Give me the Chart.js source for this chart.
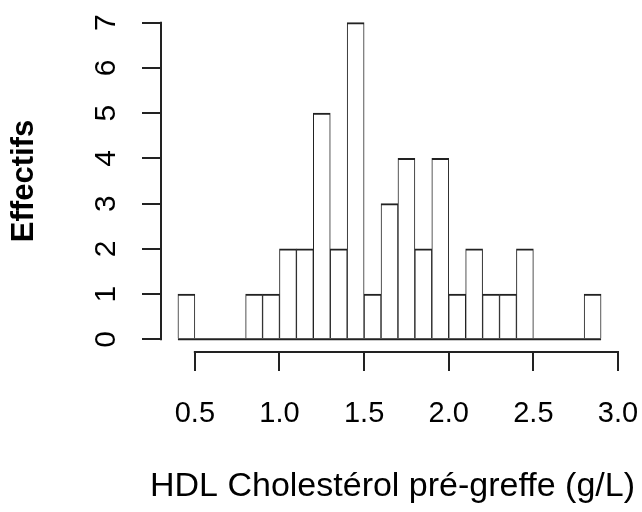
<!DOCTYPE html>
<html>
<head>
<meta charset="utf-8">
<script src="https://cdn.jsdelivr.net/npm/chart.js@4"></script>
<style>
  html, body { margin: 0; padding: 0; background: #fff; }
  #wrap { width: 642px; height: 512px; }
</style>
</head>
<body>
<div id="wrap"><canvas id="histo"></canvas></div>
<script>
// milieux des classes (largeur 0.1) et effectifs
const binMids = [0.45, 0.55, 0.65, 0.75, 0.85, 0.95, 1.05, 1.15, 1.25, 1.35, 1.45, 1.55, 1.65,
                 1.75, 1.85, 1.95, 2.05, 2.15, 2.25, 2.35, 2.45, 2.55, 2.65, 2.75, 2.85];
const effectifs = [1, 0, 0, 0, 1, 1, 2, 2, 5, 2, 7, 1, 3,
                   4, 2, 4, 1, 2, 1, 1, 2, 0, 0, 0, 1];
const binWidth = 0.1;

const xTicks = [0.5, 1.0, 1.5, 2.0, 2.5, 3.0];
const yTicks = [0, 1, 2, 3, 4, 5, 6, 7];

const xTitle = 'HDL Cholestérol pré-greffe (g/L)';
const yTitle = 'Effectifs';

const INK = '#222';
const FONT = "'Liberation Sans', Arial, Helvetica, sans-serif";

// axes "à la R" : ligne seulement entre le premier et le dernier tick, ligne de base des barres
const axesR = {
  id: 'axesR',
  afterDatasetsDraw(chart) {
    const { ctx, scales: { x, y }, chartArea } = chart;
    ctx.save();
    ctx.strokeStyle = INK;
    ctx.lineWidth = 2;
    ctx.beginPath();
    // ligne de base de l'histogramme
    const y0 = y.getPixelForValue(0);
    ctx.moveTo(x.getPixelForValue(binMids[0] - binWidth / 2), y0);
    ctx.lineTo(x.getPixelForValue(binMids[binMids.length - 1] + binWidth / 2), y0);
    // axe x
    ctx.moveTo(x.getPixelForValue(xTicks[0]) - 1, chartArea.bottom);
    ctx.lineTo(x.getPixelForValue(xTicks[xTicks.length - 1]) + 1, chartArea.bottom);
    // axe y
    ctx.moveTo(chartArea.left, y.getPixelForValue(yTicks[0]) + 1);
    ctx.lineTo(chartArea.left, y.getPixelForValue(yTicks[yTicks.length - 1]) - 1);
    ctx.stroke();

    // étiquettes de l'axe y, tournées comme dans R
    ctx.fillStyle = '#000';
    ctx.font = '30px ' + FONT;
    ctx.textAlign = 'center';
    ctx.textBaseline = 'alphabetic';
    yTicks.forEach(v => {
      ctx.save();
      ctx.translate(115, y.getPixelForValue(v));
      ctx.rotate(-Math.PI / 2);
      ctx.fillText(String(v), 0, 0);
      ctx.restore();
    });

    // titre de l'axe x (plus large que la zone de tracé, donc pas de maxWidth)
    ctx.font = '34px ' + FONT;
    ctx.fillText(xTitle, (chartArea.left + chartArea.right) / 2 + 3, 496);
    ctx.restore();
  }
};

new Chart(document.getElementById('histo'), {
  type: 'bar',
  data: {
    datasets: [{
      data: binMids.map((m, i) => ({ x: m, y: effectifs[i] })),
      backgroundColor: '#fff',
      borderColor: INK,
      borderWidth: { top: 2, left: 1, right: 1, bottom: 0 },
      barPercentage: 1,
      categoryPercentage: 1
    }]
  },
  options: {
    responsive: true,
    maintainAspectRatio: false,
    animation: false,
    layout: { padding: { top: 10, right: 24, left: 0, bottom: 0 } },
    plugins: { legend: { display: false }, tooltip: { enabled: false } },
    scales: {
      x: {
        type: 'linear',
        min: 0.3,
        max: 3.0,
        offset: false,
        afterBuildTicks: s => { s.ticks = xTicks.map(v => ({ value: v })); },
        afterFit: s => { s.height = 160; s.paddingRight = 0; s.paddingLeft = 0; },
        border: { display: false },
        grid: { offset: false, drawOnChartArea: false, drawTicks: true, tickLength: 19, color: INK, lineWidth: 2 },
        ticks: {
          color: '#000',
          padding: 26,
          maxRotation: 0,
          font: { family: FONT, size: 29 },
          callback: v => v.toFixed(1)
        },
        title: { display: false }
      },
      y: {
        min: -0.28,
        max: 7.28,
        afterBuildTicks: s => { s.ticks = yTicks.map(v => ({ value: v })); },
        afterFit: s => { s.width = 161; },
        border: { display: false },
        grid: { drawOnChartArea: false, drawTicks: true, tickLength: 19, color: INK, lineWidth: 2 },
        ticks: { display: false },
        title: {
          display: true,
          text: yTitle,
          color: '#000',
          font: { family: FONT, size: 31, weight: 'bold' },
          padding: { top: 6, bottom: 0 }
        }
      }
    }
  },
  plugins: [axesR]
});
</script>
</body>
</html>
